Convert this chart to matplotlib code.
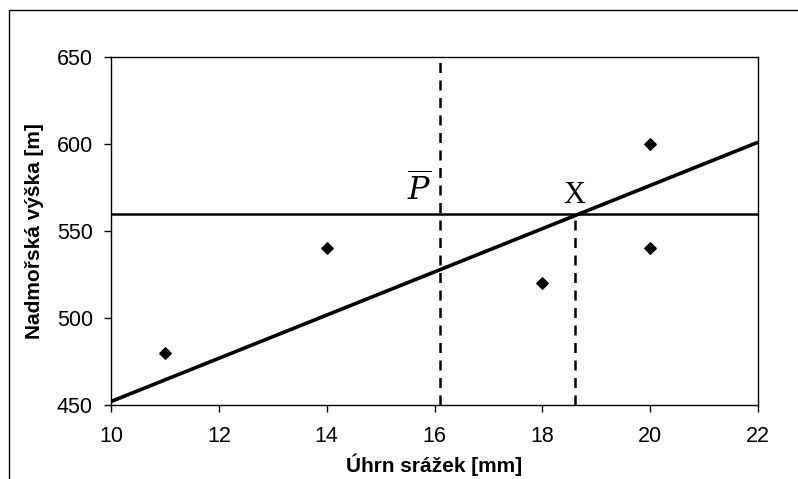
import matplotlib.pyplot as plt
from matplotlib.patches import Rectangle

# data
srazky = [11, 14, 18, 20, 20]
vyska = [480, 540, 520, 600, 540]
line_x = [10, 22]
line_y = [452, 601]
p_mean = 16.1
h_level = 560
x_cross = 18.6

plt.rcParams['font.family'] = ['Liberation Sans', 'DejaVu Sans']

fig = plt.figure(figsize=(7.98, 4.79), dpi=100)
ax = fig.add_axes([111 / 798, 1 - 405 / 479, (758 - 111) / 798, (405 - 57) / 479])

# outer chart border
fig.patches.append(Rectangle((9 / 798, -0.1), 1.2, 1 - 10 / 479 + 0.1,
                             transform=fig.transFigure, fill=False,
                             edgecolor='black', linewidth=1.0))

ax.plot(line_x, line_y, color='black', linewidth=2.6, solid_capstyle='butt')
ax.axhline(h_level, color='black', linewidth=1.8)
ax.axvline(p_mean, color='black', linestyle=(0, (4, 3)), linewidth=1.8)
ax.plot([x_cross, x_cross], [450, h_level], color='black',
        linestyle=(0, (4, 3)), linewidth=1.8)
ax.scatter(srazky, vyska, marker='D', s=34, color='black', zorder=3)

ax.text(p_mean - 0.15, h_level + 3, r'$\overline{P}$', ha='right', va='bottom',
        fontsize=23, math_fontfamily='dejavuserif')
ax.text(x_cross, h_level + 2, 'X', ha='center', va='bottom', fontsize=22,
        fontfamily='Liberation Serif')

ax.set_xlim(10, 22)
ax.set_ylim(450, 650)
ax.set_xticks(range(10, 23, 2))
ax.set_yticks(range(450, 651, 50))
ax.tick_params(direction='out', length=5, width=1, labelsize=15.5)
ax.tick_params(axis='x', pad=10)
ax.tick_params(axis='y', pad=8)
for s in ax.spines.values():
    s.set_linewidth(1.0)

ax.set_xlabel('Úhrn srážek [mm]', fontsize=15, fontweight='bold', labelpad=5)
ax.set_ylabel('Nadmořská výška [m]', fontsize=15, fontweight='bold', labelpad=9)

fig.savefig('out.png', dpi=100)
